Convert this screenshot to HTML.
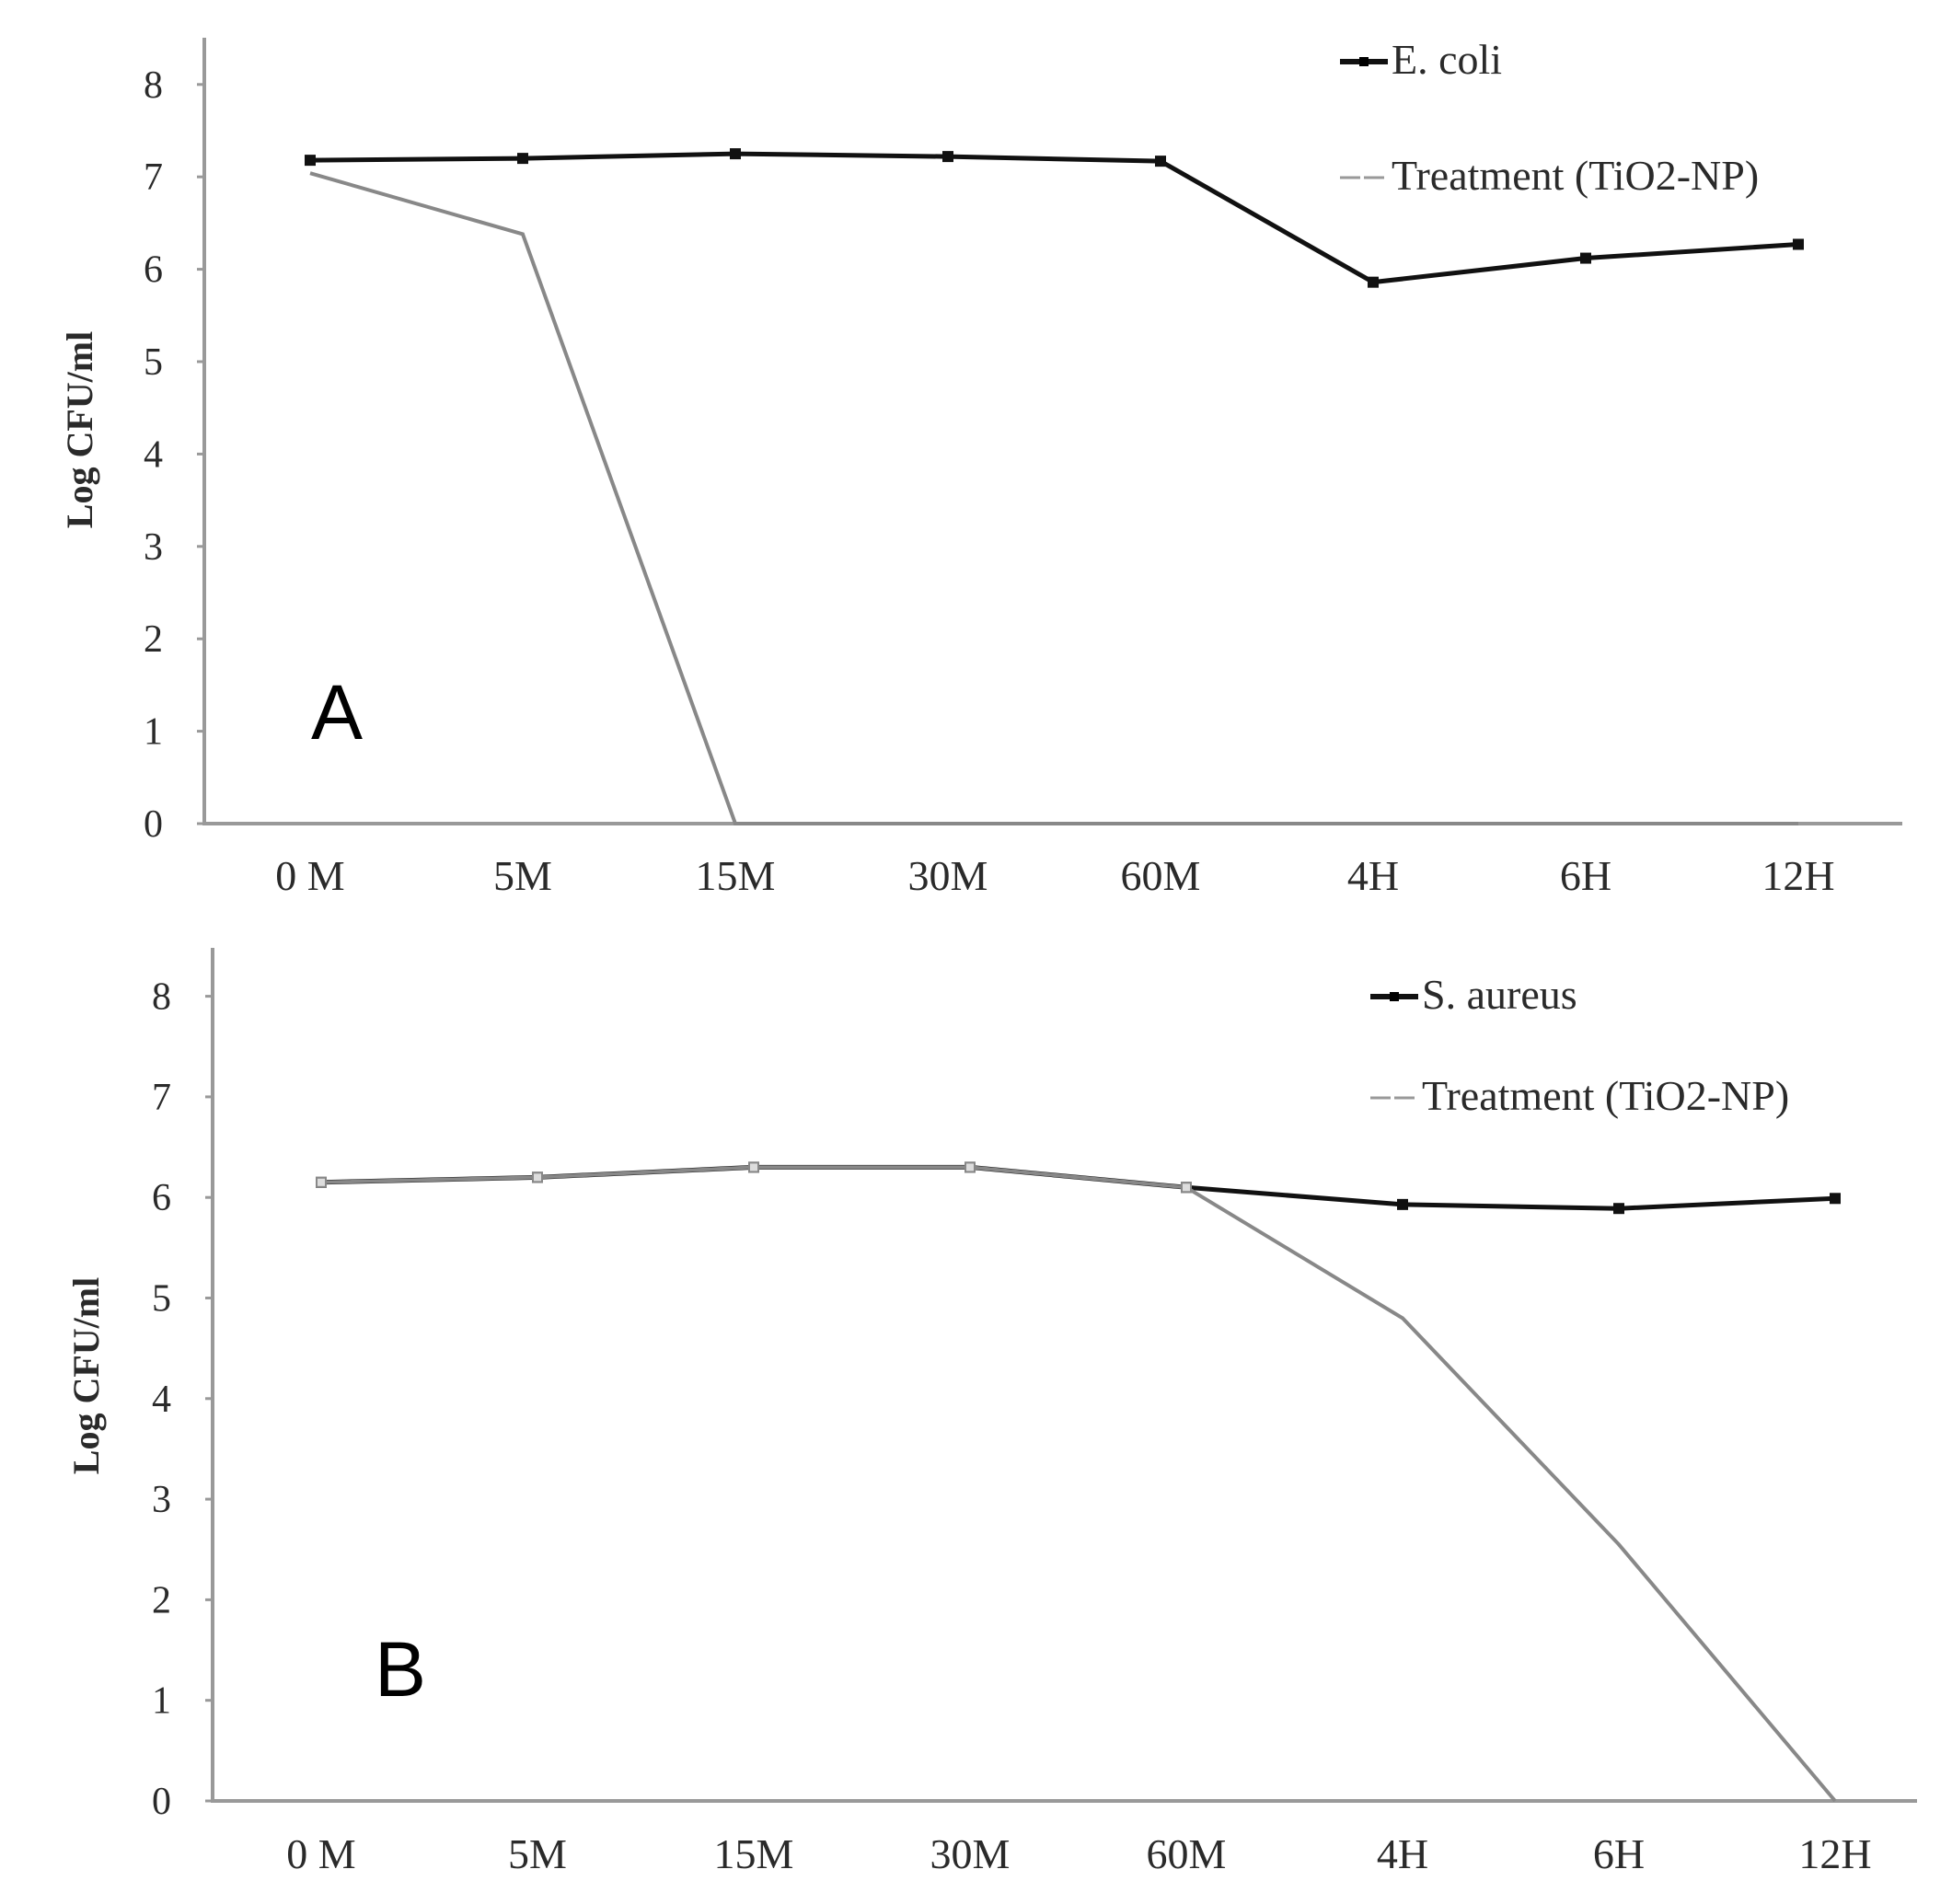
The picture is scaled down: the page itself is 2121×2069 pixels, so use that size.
<!DOCTYPE html>
<html><head><meta charset="utf-8">
<style>
html,body{margin:0;padding:0;background:#fff;}
svg{display:block;}
text{font-family:"Liberation Serif",serif;fill:#2a2a2a;}
</style></head>
<body>
<svg id="chart" width="2121" height="2069" viewBox="0 0 2121 2069" xmlns="http://www.w3.org/2000/svg"></svg>
<script>
const categories = ["0 M","5M","15M","30M","60M","4H","6H","12H"];
const yTicks = [0,1,2,3,4,5,6,7,8];
const ecoliValues = [7.18,7.2,7.25,7.22,7.17,5.86,6.12,6.27];
const ecoliTreatment = [7.04,6.38,0,0,0,0,0,0];
const saureusValues = [6.15,6.2,6.3,6.3,6.1,5.93,5.89,5.99];
const saureusTreatment = [6.15,6.2,6.3,6.3,6.1,4.8,2.55,0];

const NS="http://www.w3.org/2000/svg";
const svg=document.getElementById('chart');
function mk(tag,attrs,parent){const e=document.createElementNS(NS,tag);for(const k in attrs)e.setAttribute(k,attrs[k]);(parent||svg).appendChild(e);return e;}

function panel(cfg){
  const g=mk('g',{});
  
  
  const xs=i=>cfg.x0+i*cfg.dx;
  const ys=v=>cfg.y0-v*cfg.unit;
  const ya=mk('line',{x1:cfg.ax,y1:cfg.ytop,x2:cfg.ax,y2:cfg.y0+2,stroke:'#999','stroke-width':4},g);
  
  const xa=mk('line',{x1:cfg.ax-2,y1:cfg.y0,x2:cfg.xend,y2:cfg.y0,stroke:'#999','stroke-width':4},g);
  
  yTicks.forEach(t=>{
    const y=ys(t);
    const tk=mk('line',{x1:cfg.ax-8,y1:y,x2:cfg.ax,y2:y,stroke:'#999','stroke-width':3},g);
    
    const tl=mk('text',{x:cfg.ax-45,y:y+14,'font-size':42,'text-anchor':'end'},g);
    tl.textContent=t;
    
  });
  categories.forEach((c,i)=>{
    const tl=mk('text',{x:xs(i),y:cfg.xlab,'font-size':46,'text-anchor':'middle'},g);
    tl.textContent=c;
    
  });
  const yt=mk('text',{x:0,y:0,'font-size':40,'font-weight':'bold','text-anchor':'middle',transform:`translate(${cfg.ytx},${cfg.yty}) rotate(-90)`},g);
  yt.textContent='Log CFU/ml';
  
  const ctrl=mk('polyline',{points:cfg.ctrl.map((v,i)=>xs(i)+','+ys(v)).join(' '),fill:'none',stroke:'#111','stroke-width':5},g);
  
  cfg.ctrl.forEach((v,i)=>{
    const m=mk('rect',{x:xs(i)-6,y:ys(v)-6,width:12,height:12,fill:'#111'},g);
    
  });
  const tr=mk('polyline',{points:cfg.treat.map((v,i)=>xs(i)+','+ys(v)).join(' '),fill:'none',stroke:'#888','stroke-width':4},g);
  
  if(cfg.openMarks){cfg.treat.slice(0,5).forEach((v,i)=>{
    const m=mk('rect',{x:xs(i)-5,y:ys(v)-5,width:10,height:10,fill:'#ddd',stroke:'#888','stroke-width':2},g);
    
  });}
  const l1=mk('line',{x1:cfg.lx,y1:cfg.ly1,x2:cfg.lx+52,y2:cfg.ly1,stroke:'#111','stroke-width':6},g);
  
  mk('rect',{x:cfg.lx+21,y:cfg.ly1-5,width:10,height:10,fill:'#000'},g);
  const t1=mk('text',{x:cfg.lx+56,y:cfg.ly1+13,'font-size':46},g);
  t1.textContent=cfg.label;
  const l2=mk('line',{x1:cfg.lx,y1:cfg.ly2,x2:cfg.lx+52,y2:cfg.ly2,stroke:'#999','stroke-width':3,'stroke-dasharray':'22 4'},g);
  
  const t2=mk('text',{x:cfg.lx+56,y:cfg.ly2+13,'font-size':46},g);
  t2.textContent='Treatment (TiO2-NP)';
  const pl=mk('text',{x:cfg.px,y:cfg.py,'font-size':84},g);
  pl.style.fontFamily='"Liberation Sans",sans-serif';pl.style.fill='#000';
  pl.textContent=cfg.panelLabel;
}
panel({name:'panel-a',ax:222,ytop:41,y0:895,unit:100.4,x0:337,dx:231,xend:2067,xlab:967,ytx:100,yty:467,
  ctrl:ecoliValues,treat:ecoliTreatment,openMarks:false,lx:1456,ly1:67,ly2:193,label:'E. coli',panelLabel:'A',px:338,py:803});
panel({name:'panel-b',ax:231,ytop:1030,y0:1957,unit:109.3,x0:349,dx:235,xend:2083,xlab:2030,ytx:107,yty:1495,
  ctrl:saureusValues,treat:saureusTreatment,openMarks:true,lx:1489,ly1:1083,ly2:1193,label:'S. aureus',panelLabel:'B',px:407,py:1843});
</script>
</body></html>
